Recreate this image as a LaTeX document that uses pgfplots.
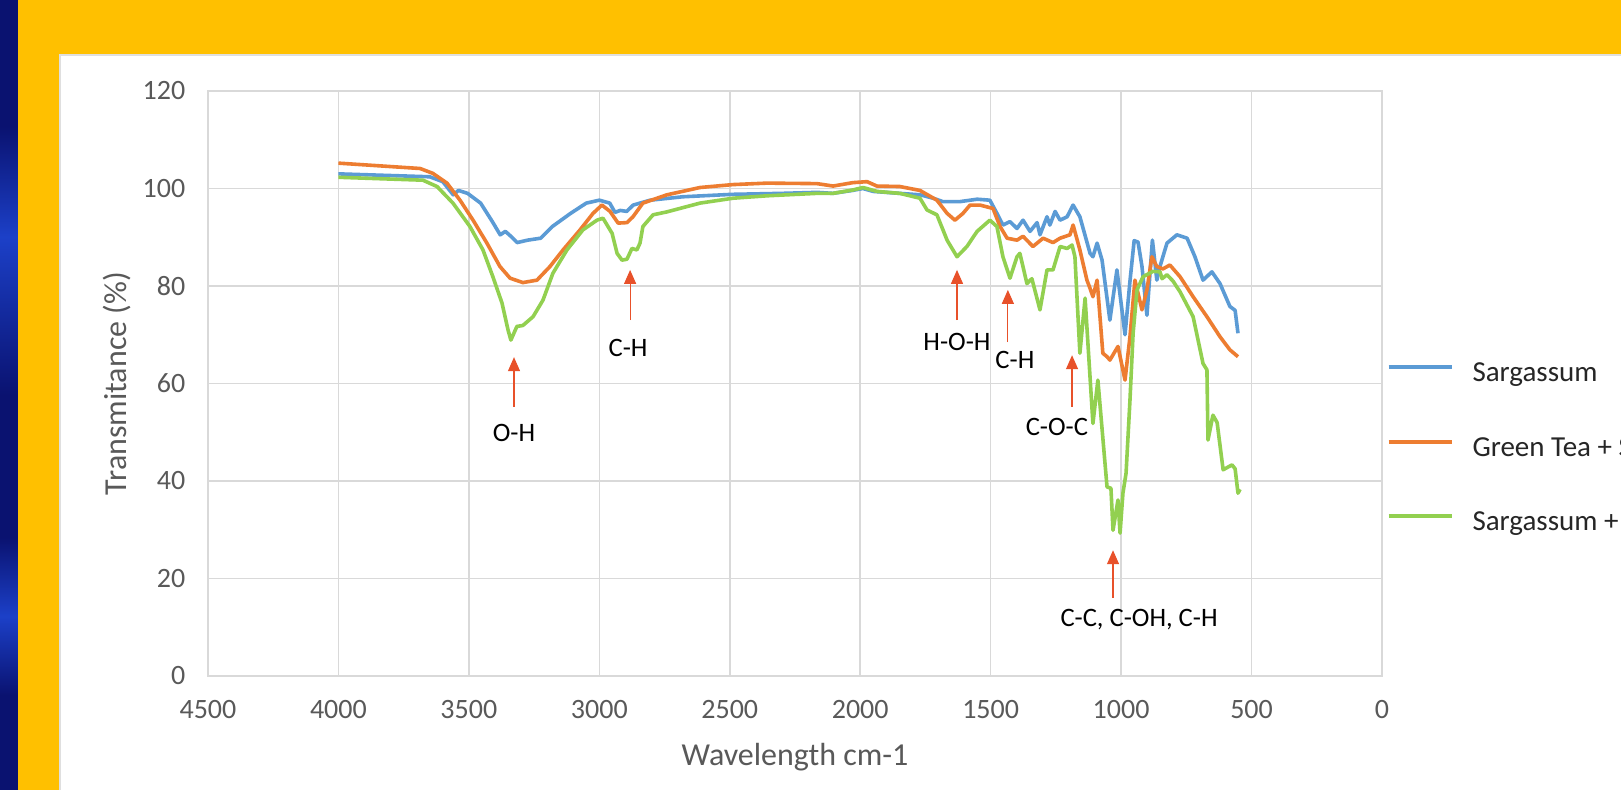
\documentclass[border=0pt]{standalone}
\usepackage{fontspec}
\setmainfont{Carlito}
\usepackage{pgfplots}
\pgfplotsset{compat=1.18}
\usetikzlibrary{arrows.meta}
\definecolor{sblue}{HTML}{5B9BD5}
\definecolor{sorange}{HTML}{ED7D31}
\definecolor{sgreen}{HTML}{92D050}
\definecolor{arrowred}{HTML}{E8512A}
\definecolor{slideyellow}{HTML}{FFC000}
\definecolor{gridgray}{HTML}{D9D9D9}
\definecolor{ticktext}{HTML}{595959}
\definecolor{navyA}{HTML}{0A1270}
\definecolor{blueB}{HTML}{1C40C8}
\pgfdeclareverticalshading{strip}{100bp}{color(0bp)=(navyA); color(25bp)=(navyA); color(31bp)=(navyA); color(36bp)=(blueB); color(41bp)=(navyA); color(50bp)=(navyA); color(60bp)=(blueB); color(67bp)=(navyA); color(75bp)=(navyA); color(100bp)=(navyA)}
\begin{document}
\begin{tikzpicture}
\path[use as bounding box, clip] (0pt,0pt) rectangle (810.5pt,395pt);
\begin{scope}[x=0.5pt,y=0.5pt]
\shade[shading=strip] (0,0) rectangle (18,790);
\fill[slideyellow] (18,0) rectangle (1621,790);
\fill[white, draw=gray!25, line width=1pt] (60,-5) rectangle (1630,735);
\end{scope}
\begin{axis}[
  at={(104pt,57pt)}, anchor=south west,
  width=587pt, height=292.5pt, scale only axis,
  xmin=0, xmax=4500, ymin=0, ymax=120, x dir=reverse,
  xtick={0,500,...,4500}, ytick={0,20,...,120},
  grid=major, major grid style={gridgray, line width=0.8pt},
  axis line style={gridgray, line width=0.8pt},
  tick style={draw=none},
  ticklabel style={font=\fontsize{14}{16}\selectfont, text=ticktext},
  /pgf/number format/assume math mode=true,
  /pgf/number format/1000 sep={},
  xticklabel style={yshift=-8.8pt},
  yticklabel style={xshift=-7.8pt},
  xlabel={Wavelength cm-1}, ylabel={Transmitance (\%)},
  label style={font=\fontsize{16}{19}\selectfont, text=ticktext},
  xlabel style={at={(axis description cs:0.5,-0.1385)}, anchor=center},
  ylabel style={at={(axis description cs:-0.0775,0.5)}, anchor=center},
  clip=false,
  legend cell align=left,
  legend image code/.code={\draw[#1, line width=2pt] (0pt,3.5pt) -- (31.5pt,3.5pt);},
  legend style={draw=none, fill=none, at={(1.0035,0.541)}, anchor=north west,
    font=\fontsize{14.5}{17}\selectfont, text=black!85, inner sep=0pt,
    nodes={inner sep=0pt, text height=11pt, text depth=3.5pt},
    row sep=22.75pt, /tikz/every odd column/.append style={column sep=9.5pt}},
  every axis plot/.append style={line width=1.8pt, line join=round},
]
\addplot[sblue] coordinates {
(4000,103) (3650,102.4) (3600,101.4) (3560,98.7) (3540,99.6) (3505,99) (3455,97) (3410,93.2)
(3380,90.5) (3360,91.2) (3335,90) (3315,88.9) (3275,89.4) (3225,89.8) (3180,92.2) (3110,94.9)
(3050,97) (3000,97.6) (2960,97) (2940,95.1) (2920,95.5) (2895,95.3) (2870,96.6) (2805,97.6)
(2680,98.3) (2490,98.8) (2300,99) (2165,99.2) (2105,99) (2030,99.6) (1990,100) (1950,99.4)
(1850,99) (1770,98.7) (1720,98) (1683,97.3) (1618,97.3) (1552,97.8) (1503,97.6) (1476,94.9)
(1453,92.5) (1426,93.2) (1399,91.8) (1376,93.5) (1349,91.2) (1322,93) (1311,90.5) (1284,94.2)
(1273,92.5) (1253,95.3) (1234,93.5) (1207,94.2) (1184,96.6) (1158,94.2) (1131,89) (1119,86.7)
(1108,86) (1092,88.8) (1073,85.3) (1043,73) (1016,83.3) (985,70) (966,81) (950,89.3) (935,89)
(920,84) (901,74) (880,89.4) (863,81.2) (851,84) (832,87.4) (824,88.8) (786,90.5) (747,89.8)
(717,86) (686,81.2) (652,82.9) (621,80.5) (583,75.8) (563,75) (552,70.3)
};
\addlegendentry{Sargassum}
\addplot[sorange] coordinates {
(4000,105.2) (3687,104.1) (3638,103.1) (3584,101.1) (3534,97.6) (3484,93.5) (3431,88.8)
(3381,84) (3342,81.6) (3293,80.7) (3239,81.2) (3189,84) (3139,87.4) (3074,91.5) (3024,94.9)
(2990,96.6) (2959,95.3) (2928,92.9) (2894,93) (2871,94.2) (2833,97) (2741,98.7) (2614,100.2)
(2488,100.8) (2357,101.1) (2166,101) (2104,100.5) (2028,101.2) (1974,101.4) (1936,100.5)
(1848,100.4) (1771,99.6) (1706,97.6) (1667,94.9) (1637,93.5) (1606,94.9) (1579,96.6)
(1541,96.6) (1491,95.9) (1464,92.2) (1437,89.8) (1399,89.4) (1376,90.2) (1338,88.1)
(1299,89.8) (1261,88.9) (1234,89.8) (1196,90.5) (1184,92.5) (1158,87.4) (1131,81.2)
(1119,79.5) (1108,77.8) (1092,81.2) (1070,66.2) (1054,65.5) (1043,64.8) (1012,67.6)
(985,60.7) (966,69.6) (947,81.2) (920,75.1) (901,79.2) (882,86) (863,84) (840,83.5)
(813,84.3) (774,81.9) (724,77.8) (671,73.7) (621,69.6) (583,66.9) (552,65.5)
};
\addlegendentry{Green Tea + Sargassum}
\addplot[sgreen] coordinates {
(4000,102.3) (3676,101.7) (3622,100.4) (3561,97) (3496,92.2) (3446,87.4) (3408,81.9)
(3373,76.5) (3350,71) (3339,68.9) (3316,71.7) (3293,71.9) (3254,73.7) (3216,77.1) (3178,82.6)
(3124,87.4) (3063,91.5) (3009,93.5) (2986,93.9) (2951,90.8) (2932,86.7) (2913,85.3) (2894,85.5)
(2875,87.7) (2856,87.4) (2844,88.8) (2833,92.2) (2794,94.6) (2741,95.2) (2614,97) (2488,98)
(2357,98.5) (2166,99) (2104,99) (2028,99.7) (1989,100.2) (1936,99.4) (1848,99) (1771,98)
(1744,95.6) (1706,94.6) (1667,89.4) (1629,86) (1591,88.1) (1552,91.2) (1503,93.5) (1476,92.2)
(1453,86) (1426,81.6) (1399,86) (1388,86.7) (1361,80.5) (1342,81.5) (1311,75.1) (1284,83.3)
(1261,83.3) (1234,88.1) (1207,87.7) (1188,88.4) (1177,86) (1158,66.2) (1138,77.5) (1108,51.8)
(1089,60.7) (1054,38.8) (1039,38.5) (1031,29.9) (1012,36.1) (1004,29.3) (993,37.5) (981,41.6)
(966,56.6) (954,70.3) (939,79.2) (916,81.9) (878,83) (851,82.9) (843,81.5) (824,82.3) (801,81)
(774,78.8) (724,73.7) (686,64.1) (671,62.8) (667,48.4) (648,53.5) (632,52) (609,42.3) (575,43.3)
(563,42.5) (552,37.5) (544,38.3)
};
\addlegendentry{Sargassum + Green Tea}
\tikzset{ann/.style={arrowred, line width=0.6pt, -{Triangle[width=6pt,length=7pt]}},
  lab/.style={font=\fontsize{13.3}{15}\selectfont, text=black}}
\draw[ann] (axis cs:3327,55.2) -- (axis cs:3327,65.4);
\node[lab] at (axis cs:3327,49.8) {O-H};
\draw[ann] (axis cs:2882,73) -- (axis cs:2882,83.3);
\node[lab] at (axis cs:2890,67.3) {C-H};
\draw[ann] (axis cs:1629,73) -- (axis cs:1629,83.3);
\node[lab] at (axis cs:1629,68.5) {H-O-H};
\draw[ann] (axis cs:1434,68.5) -- (axis cs:1434,79.2);
\node[lab] at (axis cs:1407,64.8) {C-H};
\draw[ann] (axis cs:1188,55.2) -- (axis cs:1188,65.8);
\node[lab] at (axis cs:1246,51.1) {C-O-C};
\draw[ann] (axis cs:1031,16) -- (axis cs:1031,25.8);
\node[lab] at (axis cs:931,11.5) {C-C, C-OH, C-H};
\end{axis}
\end{tikzpicture}
\end{document}
